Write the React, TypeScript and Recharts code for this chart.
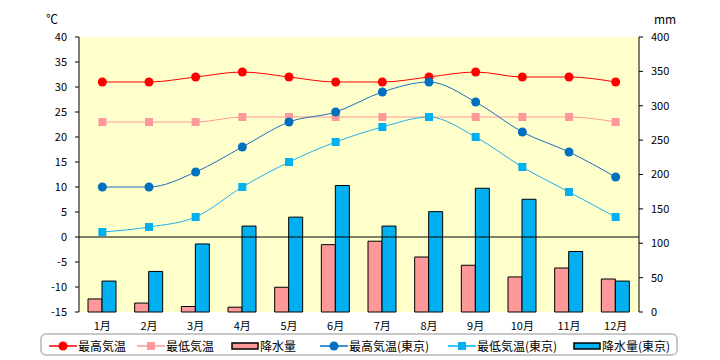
import {
  ComposedChart, Bar, Line, XAxis, YAxis, CartesianGrid, ReferenceLine,
} from 'recharts'

const months = ['1月', '2月', '3月', '4月', '5月', '6月', '7月', '8月', '9月', '10月', '11月', '12月']
const maxTemp = [31, 31, 32, 33, 32, 31, 31, 32, 33, 32, 32, 31]
const minTemp = [23, 23, 23, 24, 24, 24, 24, 24, 24, 24, 24, 23]
const rain = [19, 13, 8, 7, 36, 98, 103, 80, 68, 51, 64, 48]
const tokyoMax = [10, 10, 13, 18, 23, 25, 29, 31, 27, 21, 17, 12]
const tokyoMin = [1, 2, 4, 10, 15, 19, 22, 24, 20, 14, 9, 4]
const tokyoRain = [45, 59, 99, 125, 138, 184, 125, 146, 180, 164, 88, 45]

const tempTicks = [-15, -10, -5, 0, 5, 10, 15, 20, 25, 30, 35, 40]
const rainTicks = [0, 50, 100, 150, 200, 250, 300, 350, 400]

const data = months.map((m, i) => ({
  month: m,
  maxTemp: maxTemp[i],
  minTemp: minTemp[i],
  rain: rain[i],
  tokyoMax: tokyoMax[i],
  tokyoMin: tokyoMin[i],
  tokyoRain: tokyoRain[i],
}))

const FONT = '"Noto Sans CJK JP", "DejaVu Sans", sans-serif'
const tick = { fontSize: 11, fill: '#000', fontFamily: FONT }

const Square = (color: string) => (props: any) => {
  const { cx, cy, index } = props
  if (cx == null || cy == null) return <g key={index} />
  return <rect key={index} x={cx - 4} y={cy - 4} width={8} height={8} fill={color} />
}

const LineMark = ({ color, shape }: { color: string; shape: 'circle' | 'square' }) => (
  <svg width={28} height={12}>
    <line x1={0} y1={6} x2={28} y2={6} stroke={color} strokeWidth={1.5} />
    {shape === 'circle'
      ? <circle cx={14} cy={6} r={4.5} fill={color} />
      : <rect x={10} y={2} width={8} height={8} fill={color} />}
  </svg>
)

const BarMark = ({ color }: { color: string }) => (
  <svg width={28} height={12}>
    <rect x={1} y={3} width={26} height={6} fill={color} stroke="#000" strokeWidth={1.5} />
  </svg>
)

const legendItems = [
  { left: 49, name: '最高気温', mark: <LineMark color="#ff0000" shape="circle" /> },
  { left: 137, name: '最低気温', mark: <LineMark color="#ff9999" shape="square" /> },
  { left: 231, name: '降水量', mark: <BarMark color="#ff9999" /> },
  { left: 320, name: '最高気温(東京)', mark: <LineMark color="#0070c0" shape="circle" /> },
  { left: 448, name: '最低気温(東京)', mark: <LineMark color="#00b0f0" shape="square" /> },
  { left: 573, name: '降水量(東京)', mark: <BarMark color="#00b0f0" /> },
]

export default function App() {
  return (
    <div style={{ position: 'absolute', left: 0, top: 0, width: 720, height: 360, background: '#fff', fontFamily: FONT }}>
      <span style={{ position: 'absolute', left: 46, top: 10, fontSize: 12 }}>℃</span>
      <span style={{ position: 'absolute', left: 654, top: 10, fontSize: 12 }}>mm</span>
      <ComposedChart
        width={720}
        height={360}
        data={data}
        margin={{ top: 37, right: 0, bottom: 28, left: 0 }}
        barGap={0}
        barSize={14}
      >
        <CartesianGrid horizontal={false} vertical={false} fill="#ffffcc" yAxisId="left" />
        <XAxis
          dataKey="month"
          tick={tick}
          axisLine={false}
          tickLine={false}
          height={20}
          tickMargin={4}
        />
        <YAxis
          yAxisId="left"
          domain={[-15, 40]}
          ticks={tempTicks}
          interval={0}
          width={79}
          tick={tick}
          tickSize={4}
          tickMargin={8}
          axisLine={{ stroke: '#000' }}
          tickLine={{ stroke: '#000' }}
        />
        <YAxis
          yAxisId="right"
          orientation="right"
          domain={[0, 400]}
          ticks={rainTicks}
          interval={0}
          width={81}
          tick={{ ...tick, textAnchor: 'start' }}
          tickSize={4}
          tickMargin={8}
          axisLine={{ stroke: '#000' }}
          tickLine={{ stroke: '#000' }}
        />
        <Bar yAxisId="right" dataKey="rain" name="降水量" fill="#ff9999" stroke="#000" strokeWidth={1} isAnimationActive={false} />
        <Bar yAxisId="right" dataKey="tokyoRain" name="降水量(東京)" fill="#00b0f0" stroke="#000" strokeWidth={1} isAnimationActive={false} />
        <ReferenceLine yAxisId="left" y={0} stroke="#000" strokeWidth={1} />
        <Line yAxisId="left" type="monotone" dataKey="maxTemp" name="最高気温" stroke="#ff0000" strokeWidth={1}
          dot={{ r: 4.5, fill: '#ff0000', stroke: 'none' }} isAnimationActive={false} />
        <Line yAxisId="left" type="monotone" dataKey="minTemp" name="最低気温" stroke="#ff9999" strokeWidth={1}
          dot={Square('#ff9999')} isAnimationActive={false} />
        <Line yAxisId="left" type="monotone" dataKey="tokyoMax" name="最高気温(東京)" stroke="#1a70c0" strokeWidth={1}
          dot={{ r: 4.5, fill: '#0070c0', stroke: 'none' }} isAnimationActive={false} />
        <Line yAxisId="left" type="monotone" dataKey="tokyoMin" name="最低気温(東京)" stroke="#20b0f0" strokeWidth={1}
          dot={Square('#00b0f0')} isAnimationActive={false} />
      </ComposedChart>
      <div style={{
        position: 'absolute', left: 40, top: 333, width: 638, height: 23,
        border: '2px solid #c8c8c8', borderRadius: 6, boxSizing: 'border-box',
      }} />
      {legendItems.map(it => (
        <div key={it.name} style={{ position: 'absolute', left: it.left, top: 337, display: 'flex', alignItems: 'center', fontSize: 12, whiteSpace: 'nowrap' }}>
          {it.mark}
          <span style={{ marginLeft: 1 }}>{it.name}</span>
        </div>
      ))}
    </div>
  )
}
